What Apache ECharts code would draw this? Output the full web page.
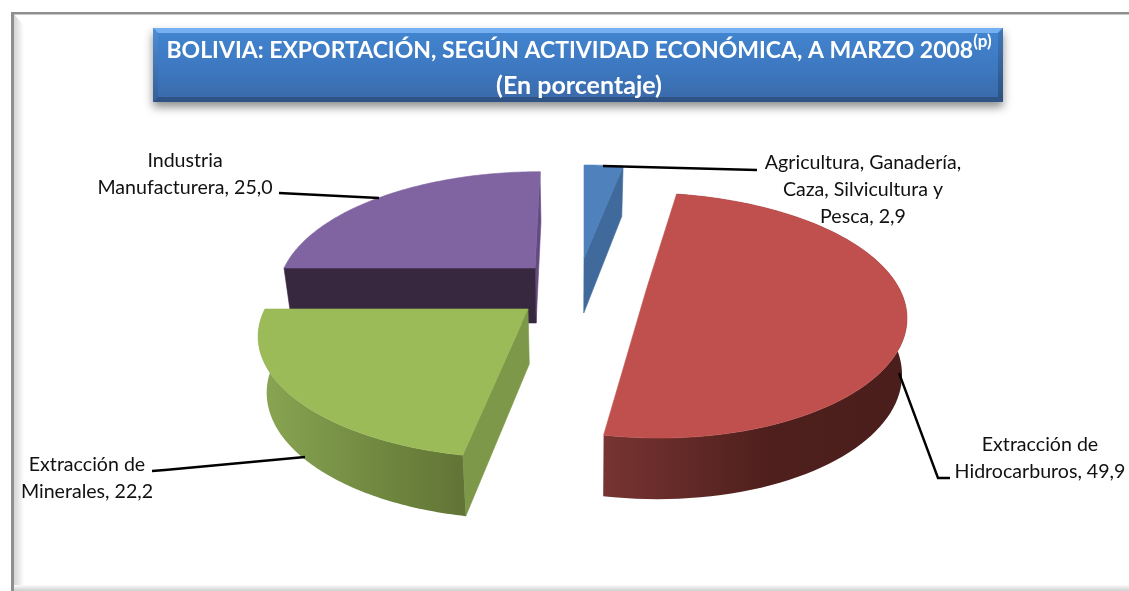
<!DOCTYPE html>
<html>
<head>
<meta charset="utf-8">
<style>html,body{margin:0;padding:0;background:#fff}#c{width:1129px;height:591px}</style>
<script src="https://cdn.jsdelivr.net/npm/echarts@6/dist/echarts.min.js"></script>
</head>
<body>
<div id="c"></div>
<script>
// ---- data ----
const categories = ['Agricultura, Ganadería,\nCaza, Silvicultura y\nPesca', 'Extracción de\nHidrocarburos', 'Extracción de\nMinerales', 'Industria\nManufacturera'];
const shares = [2.9, 49.9, 22.2, 25.0];
const titleLine1 = 'BOLIVIA: EXPORTACIÓN, SEGÚN ACTIVIDAD ECONÓMICA, A MARZO 2008';
const titleSup = '(p)';
const titleLine2 = '(En porcentaje)';

// ---- styling and 3D projection parameters ----
const FONT = 'Lato, "Open Sans", sans-serif';
const perspY = 0.215, perspX = 0.2, perspDepth = 0.1, depth = 55, vanishX = 575;
const slices = [
  { ax: 584, ay: 258, rx: 258, ry: 113, sx: 0, shrink: 0.027,
    top: '#4f81bd', faceAngle: 'end', face: '#3f6a9b',
    line: [[603,166],[757,170]], label: [863,149.5] },
  { ax: 646.5, ay: 289, rx: 253, ry: 117, sx: 10, shrink: 0.015,
    top: '#c0504d', curved: ['#773432','#4e1f1d',0.55,'#4a1e1c'],
    line: [[899,373],[938,478],[950,478]], label: [1040,431.5] },
  { ax: 528, ay: 309, rx: 263, ry: 117, sx: -6.5, shrink: 0.027,
    top: '#9bbb59', curved: ['#8aa653','#6f873f',0.6,'#627436'], faceAngle: 'start', face: '#7c9848',
    line: [[152,471],[165,470],[305,457]], label: [87,451.5] },
  { ax: 535, ay: 268, rx: 251, ry: 117, sx: -6, shrink: 0.027,
    top: '#8064a2', faceAngle: 'both', face: '#37283f', face2: '#644a80',
    line: [[279,193],[379,198]], label: [185,147.5] }
];
const drawOrder = [3, 2, 0, 1];

const total = shares.reduce((a, b) => a + b, 0);
let run = 0;
const spans = shares.map(v => { const s = run; run += v; return [s / total * 2 * Math.PI, run / total * 2 * Math.PI]; });

function project(sl, t, low) {
  const u = Math.sin(t), v = -Math.cos(t);
  let x = sl.ax + (sl.rx * u + sl.sx * v) / (1 - perspX * v);
  let y = sl.ay + sl.ry * v / (1 - perspY * v);
  if (low) { y += depth / (1 - perspDepth * v); x += (vanishX - x) * sl.shrink; }
  return [x, y];
}
function apex(sl, low) {
  if (!low) return [sl.ax, sl.ay];
  return [sl.ax + (vanishX - sl.ax) * sl.shrink, sl.ay + depth];
}
function arc(sl, a, b, low) {
  const n = 90, pts = [];
  for (let i = 0; i <= n; i++) pts.push(project(sl, a + (b - a) * i / n, low));
  return pts;
}
function poly(points, fill) {
  return { type: 'polygon', shape: { points }, style: { fill, stroke: fill, lineWidth: 0.6 } };
}
function renderSlice(params, api) {
  const i = api.value(0), value = api.value(1), sl = slices[i], [a, b] = spans[i];
  const kids = [];
  if (sl.faceAngle === 'end')
    kids.push(poly([apex(sl), project(sl, b), project(sl, b, true), apex(sl, true)], sl.face));
  if (sl.faceAngle === 'both') {
    kids.push(poly([apex(sl), project(sl, b), project(sl, b, true), apex(sl, true)], sl.face2));
    kids.push(poly([apex(sl), project(sl, a), project(sl, a, true), apex(sl, true)], sl.face));
  }
  if (sl.faceAngle === 'start')
    kids.push(poly([apex(sl), project(sl, a), project(sl, a, true), apex(sl, true)], sl.face));
  if (sl.curved) {
    const c = sl.curved;
    kids.push({ type: 'polygon', shape: { points: arc(sl, a, b, false).concat(arc(sl, a, b, true).reverse()) },
      style: { fill: { type: 'linear', x: 0, y: 0, x2: 1, y2: 0, colorStops: [{ offset: 0, color: c[0] }, { offset: c[2], color: c[1] }, { offset: 1, color: c[3] }] } } });
  }
  kids.push(poly([apex(sl)].concat(arc(sl, a, b, false)), sl.top));
  kids.push({ type: 'polyline', shape: { points: sl.line }, style: { stroke: '#000', lineWidth: 2.4, fill: null } });
  kids.push({ type: 'text', style: {
    text: categories[i] + ', ' + value.toFixed(1).replace('.', ','),
    x: sl.label[0], y: sl.label[1], align: 'center', verticalAlign: 'top',
    font: '19.6px ' + FONT, lineHeight: 27, fill: '#111' } });
  return { type: 'group', children: kids };
}

const chart = echarts.init(document.getElementById('c'), null, { renderer: 'canvas' });
const frame = [
  { type: 'rect', shape: { x: 14, y: 14, width: 10, height: 577 },
    style: { fill: { type: 'linear', x: 0, y: 0, x2: 1, y2: 0, colorStops: [{ offset: 0, color: '#d4d4d4' }, { offset: 1, color: '#ffffff' }] } } },
  { type: 'polygon', shape: { points: [[14,14],[24,26],[24,14]] }, style: { fill: '#ffffff' } },
  { type: 'rect', shape: { x: 14, y: 585, width: 1115, height: 6 },
    style: { fill: { type: 'linear', x: 0, y: 0, x2: 0, y2: 1, colorStops: [{ offset: 0, color: '#fbfbfb' }, { offset: 1, color: '#cfcfcf' }] } } },
  { type: 'rect', shape: { x: 11, y: 12, width: 3, height: 579 }, style: { fill: '#8f8f8f' } },
  { type: 'rect', shape: { x: 11, y: 12, width: 1118, height: 2.5 }, style: { fill: '#8f8f8f' } }
];
const B = { l: 153, t: 28, r: 1003, b: 102, e: 5 };
const box = [
  { type: 'rect', shape: { x: B.l, y: B.t, width: B.r - B.l, height: B.b - B.t },
    style: { fill: { type: 'linear', x: 0, y: 0, x2: 0, y2: 1, colorStops: [{ offset: 0, color: '#4285d0' }, { offset: 0.55, color: '#3d78c0' }, { offset: 1, color: '#3a69a8' }] },
      shadowBlur: 9, shadowColor: 'rgba(0,0,0,0.45)', shadowOffsetX: 0, shadowOffsetY: 5 } },
  { type: 'polygon', shape: { points: [[B.l,B.t],[B.r,B.t],[B.r-B.e,B.t+B.e],[B.l+B.e,B.t+B.e]] }, style: { fill: '#74b0f2' } },
  { type: 'polygon', shape: { points: [[B.l,B.b],[B.r,B.b],[B.r-B.e,B.b-B.e],[B.l+B.e,B.b-B.e]] }, style: { fill: '#2f5384' } },
  { type: 'polygon', shape: { points: [[B.l,B.t],[B.l+B.e,B.t+B.e],[B.l+B.e,B.b-B.e],[B.l,B.b]] }, style: { fill: { type: 'linear', x: 0, y: 0, x2: 0, y2: 1, colorStops: [{ offset: 0, color: '#4f8dd4' }, { offset: 1, color: '#345f99' }] } } },
  { type: 'polygon', shape: { points: [[B.r,B.t],[B.r-B.e,B.t+B.e],[B.r-B.e,B.b-B.e],[B.r,B.b]] }, style: { fill: { type: 'linear', x: 0, y: 0, x2: 0, y2: 1, colorStops: [{ offset: 0, color: '#3f78b8' }, { offset: 1, color: '#2c5080' }] } } }
];
chart.setOption({
  animation: false,
  backgroundColor: '#ffffff',
  title: {
    text: '{a|' + titleLine1 + '}{s|' + titleSup + '}\n{b|' + titleLine2 + '}',
    left: 579, top: 33, textAlign: 'center', padding: 0, z: 10,
    textStyle: {
      rich: {
        a: { fontFamily: FONT, fontWeight: 'bold', fontSize: 23, color: '#fff', lineHeight: 35, align: 'center' },
        b: { fontFamily: FONT, fontWeight: 'bold', fontSize: 25, color: '#fff', lineHeight: 35, align: 'center' },
        s: { fontFamily: FONT, fontWeight: 'bold', fontSize: 17, color: '#fff', lineHeight: 35, verticalAlign: 'top', padding: [0,0,7,0] }
      }
    }
  },
  graphic: { elements: frame.concat(box).map(e => Object.assign({ silent: true, z: 1 }, e)) },
  series: [{
    type: 'custom',
    coordinateSystem: 'none',
    silent: true,
    z: 3,
    renderItem: renderSlice,
    data: drawOrder.map(i => [i, shares[i]]),
    encode: { value: 1 }
  }]
});
</script>
</body>
</html>
